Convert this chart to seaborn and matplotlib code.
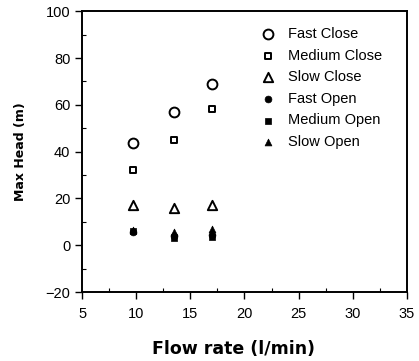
import matplotlib
matplotlib.use("Agg")
import matplotlib.pyplot as plt
import seaborn as sns
import pandas as pd
from matplotlib.ticker import MultipleLocator

flow = [9.7, 13.5, 17.0]
fast_close = [43.5, 57.0, 69.0]
medium_close = [32.0, 45.0, 58.0]
slow_close = [17.0, 16.0, 17.0]
fast_open = [5.5, 4.0, 4.5]
medium_open = [6.0, 3.0, 3.5]
slow_open = [6.5, 5.5, 7.0]

series = ["Fast Close", "Medium Close", "Slow Close", "Fast Open", "Medium Open", "Slow Open"]
values = [fast_close, medium_close, slow_close, fast_open, medium_open, slow_open]

rows = []
for name, vals in zip(series, values):
    for x, y in zip(flow, vals):
        rows.append({"flow": x, "head": y, "series": name})
df = pd.DataFrame(rows)

sns.set_style("ticks", {"text.color": "black", "axes.labelcolor": "black",
                        "xtick.color": "black", "ytick.color": "black",
                        "axes.edgecolor": "black"})
plt.rcParams['font.family'] = ['Liberation Sans', 'DejaVu Sans']

fig = plt.figure(figsize=(4.19, 3.61), dpi=100)
ax = fig.add_axes([0.196, 0.191, 0.775, 0.778])

styles = {
    "Fast Close": dict(marker="o", s=50, facecolors="white", edgecolors="black", linewidths=1.4),
    "Medium Close": dict(marker="s", s=22, facecolors="white", edgecolors="black", linewidths=1.4),
    "Slow Close": dict(marker="^", s=45, facecolors="white", edgecolors="black", linewidths=1.4),
    "Fast Open": dict(marker="o", s=24, facecolors="black", edgecolors="black", linewidths=0.5),
    "Medium Open": dict(marker="s", s=18, facecolors="black", edgecolors="black", linewidths=0.5),
    "Slow Open": dict(marker="^", s=24, facecolors="black", edgecolors="black", linewidths=0.5),
}
for name in series:
    sub = df[df["series"] == name]
    sns.scatterplot(data=sub, x="flow", y="head", ax=ax, label=name, **styles[name])

ax.set_xlim(5, 35)
ax.set_ylim(-20, 100)
ax.xaxis.set_major_locator(MultipleLocator(5))
ax.xaxis.set_minor_locator(MultipleLocator(2.5))
ax.yaxis.set_major_locator(MultipleLocator(20))
ax.yaxis.set_minor_locator(MultipleLocator(10))
ax.tick_params(which="major", direction="out", length=5, width=1.0, labelsize=10.5,
               colors="black")
ax.tick_params(axis="x", which="major", pad=6)
ax.tick_params(which="minor", direction="in", length=3, width=0.8, colors="black")
for sp in ax.spines.values():
    sp.set_linewidth(1.4)
    sp.set_color("black")

ax.set_xlabel("Flow rate (l/min)", fontsize=12.5, fontweight="bold",
              family=['DejaVu Sans'], color="black")
ax.xaxis.set_label_coords(0.465, -0.17)
ax.set_ylabel("Max Head (m)", fontsize=9, fontweight="bold",
              family=['DejaVu Sans'], color="black")
ax.yaxis.set_label_coords(-0.17, 0.5)

leg = ax.legend(loc="upper left", frameon=False, fontsize=10.5, handletextpad=0.8,
                handlelength=1.2, labelspacing=0.52, borderpad=0.4,
                bbox_to_anchor=(0.505, 0.99), labelcolor="black")

fig.savefig("out.png", dpi=100)
